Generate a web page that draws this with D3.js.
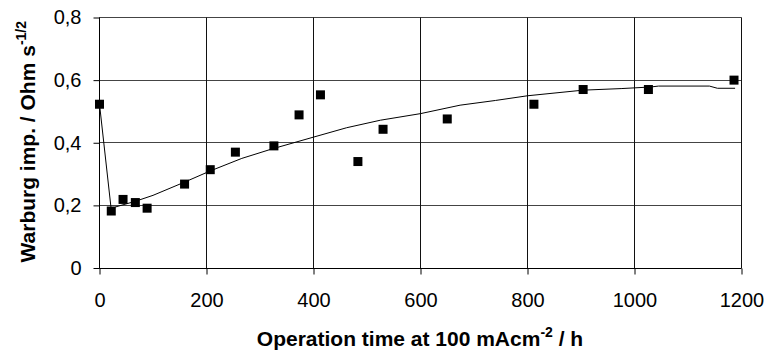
<!DOCTYPE html>
<html>
<head>
<meta charset="utf-8">
<script src="https://cdn.jsdelivr.net/npm/d3@7"></script>
<style>
  body { margin: 0; background: #fff; }
  svg text { font-family: "Liberation Sans", Arial, sans-serif; }
</style>
</head>
<body>
<div id="chart"></div>
<script>
// measured points (operation time in h, Warburg impedance)
var timeH = [0, 22, 44, 67, 89, 159, 207, 254, 326, 373, 413, 483, 530, 650, 812, 904, 1026, 1186];
var warburg = [0.523, 0.182, 0.219, 0.209, 0.191, 0.268, 0.314, 0.370, 0.390, 0.489, 0.553, 0.340, 0.443, 0.476, 0.523, 0.570, 0.570, 0.600];

// trend line
var trendX = [0, 22, 30, 67, 100, 160, 207, 266, 322, 400, 462, 525, 600, 674, 740, 800, 904, 975, 1030, 1045, 1140, 1155, 1188];
var trendY = [0.523, 0.185, 0.195, 0.213, 0.232, 0.275, 0.310, 0.350, 0.380, 0.418, 0.448, 0.472, 0.493, 0.520, 0.535, 0.550, 0.568, 0.573, 0.578, 0.581, 0.581, 0.574, 0.574];

var xTicks = [0, 200, 400, 600, 800, 1000, 1200];
var yTicks = [0, 0.2, 0.4, 0.6, 0.8];

var W = 766, H = 356;
var margin = {left: 99.5, top: 17.5, right: 24.5, bottom: 88};
var width = W - margin.left - margin.right,
    height = H - margin.top - margin.bottom;

var svg = d3.select('#chart').append('svg')
    .attr('width', W)
    .attr('height', H);

var g = svg.append('g')
    .attr('transform', 'translate(' + margin.left + ',' + margin.top + ')');

var x = d3.scaleLinear().domain([0, 1200]).range([0, width]);
var y = d3.scaleLinear().domain([0, 0.8]).range([height, 0]);

// grid
g.selectAll('.hgrid').data(yTicks).enter().append('line')
    .attr('x1', 0).attr('x2', width)
    .attr('y1', function(d){ return Math.round(y(d)); })
    .attr('y2', function(d){ return Math.round(y(d)); })
    .attr('stroke', '#444').attr('stroke-width', 1);
g.selectAll('.vgrid').data(xTicks).enter().append('line')
    .attr('y1', 0).attr('y2', height)
    .attr('x1', function(d){ return Math.round(x(d)); })
    .attr('x2', function(d){ return Math.round(x(d)); })
    .attr('stroke', '#111').attr('stroke-width', 1);

// axes
var xAxis = d3.axisBottom(x).tickValues(xTicks).tickSize(6).tickPadding(18)
    .tickFormat(d3.format('d'));
var yAxis = d3.axisLeft(y).tickValues(yTicks).tickSize(6).tickPadding(12)
    .tickFormat(function(d){ return d === 0 ? '0' : d3.format('.1f')(d).replace('.', ','); });

var gx = g.append('g')
    .attr('transform', 'translate(0,' + Math.round(height) + ')')
    .call(xAxis);
var gy = g.append('g').call(yAxis);

[gx, gy].forEach(function(a){
  a.select('.domain').attr('stroke', '#000');
  a.selectAll('.tick line').attr('stroke', '#000');
  a.selectAll('.tick text').attr('fill', '#000').style('font-size', '20px');
});
gx.select('.domain').attr('d', 'M0,0H' + width);
gy.select('.domain').attr('d', 'M0,' + Math.round(height) + 'V0');

// trend line
var line = d3.line()
    .x(function(d){ return x(d[0]); })
    .y(function(d){ return y(d[1]); });
g.append('path')
    .datum(d3.zip(trendX, trendY))
    .attr('d', line)
    .attr('fill', 'none')
    .attr('stroke', '#000')
    .attr('stroke-width', 1);

// markers
var ms = 9;
g.selectAll('.pt').data(d3.zip(timeH, warburg)).enter().append('rect')
    .attr('x', function(d){ return x(d[0]) - ms / 2; })
    .attr('y', function(d){ return y(d[1]) - ms / 2; })
    .attr('width', ms).attr('height', ms)
    .attr('fill', '#000');

// axis titles
var xt = svg.append('text')
    .attr('x', 420)
    .attr('y', 346)
    .attr('text-anchor', 'middle')
    .style('font-size', '21px').style('font-weight', 'bold');
xt.append('tspan').text('Operation time at 100 mAcm');
xt.append('tspan').attr('dy', -9).style('font-size', '14px').text('-2');
xt.append('tspan').attr('dy', 9).text(' / h');

var yt = svg.append('text')
    .attr('transform', 'translate(35,' + (margin.top + height / 2 - 1) + ') rotate(-90)')
    .attr('text-anchor', 'middle')
    .style('font-size', '21px').style('font-weight', 'bold');
yt.append('tspan').text('Warburg imp. / Ohm s');
yt.append('tspan').attr('dy', -9).style('font-size', '14px').text('-1/2');
</script>
</body>
</html>
